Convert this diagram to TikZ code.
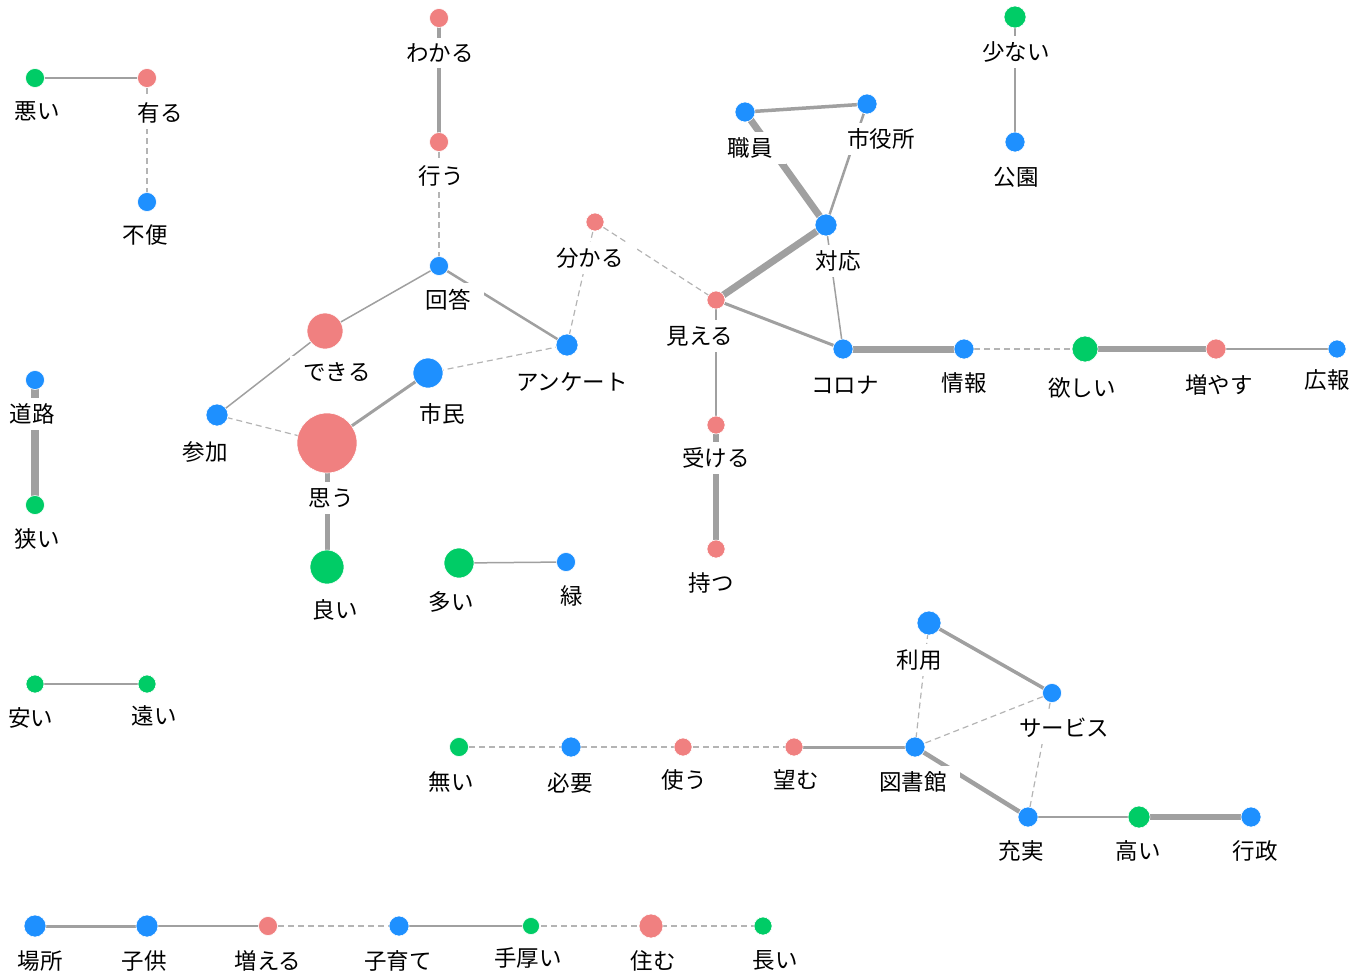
\documentclass[tikz,border=0pt]{standalone}
\usepackage{fontspec}
\setmainfont{Noto Sans CJK JP}
\pgfdeclarelayer{bg}
\pgfsetlayers{bg,main}
\definecolor{cred}{HTML}{F08080}
\definecolor{cblue}{HTML}{1E90FF}
\definecolor{cgreen}{HTML}{00CC66}
\definecolor{egray}{HTML}{A0A0A0}
\definecolor{dgray}{HTML}{B4B4B4}
\tikzset{
  vtx/.style={circle,inner sep=0pt,draw=white,line width=0.6pt},
  lbl/.style={fill=white,inner xsep=13pt,inner ysep=6pt,font=\fontsize{22.5}{26}\selectfont},
  edge/.style={draw=egray,line width=1.5pt},
  dedge/.style={draw=dgray,line width=1.2pt,dash pattern=on 6pt off 4pt},
}
\newcommand{\vtxnode}[7]{%
  \node[vtx,fill=#5,minimum size=#4pt] (#1) at (#2,#3) {};
  \coordinate (#1-l) at (#6,#7);}
\newcommand{\lab}[2]{\node[lbl] (#1-t) at (#1-l) {#2};}
\begin{document}
\begin{tikzpicture}[x=1pt,y=-1pt]
\useasboundingbox (0,0) rectangle (1364,975);
% vertices: name x y diameter color lx ly
\vtxnode{wakaru}{439}{18}{19}{cred}{440}{53}
\vtxnode{okonau}{439}{142}{19}{cred}{441}{176}
\vtxnode{kaitou}{439}{266}{19}{cblue}{448}{300}
\vtxnode{warui}{35}{78}{19}{cgreen}{37}{111}
\vtxnode{aru}{147}{78}{19}{cred}{160}{113}
\vtxnode{fuben}{147}{202}{19}{cblue}{145}{235}
\vtxnode{sukunai}{1015}{17}{22}{cgreen}{1016}{52}
\vtxnode{kouen}{1015}{142}{20}{cblue}{1016}{177}
\vtxnode{shokuin}{745}{112}{20}{cblue}{750}{148}
\vtxnode{shiyakusho}{867}{104}{20}{cblue}{881}{139}
\vtxnode{taiou}{826}{225}{22}{cblue}{838}{261}
\vtxnode{wakaru2}{595}{222}{18}{cred}{590}{258}
\vtxnode{mieru}{716}{300}{18}{cred}{700}{336}
\vtxnode{corona}{843}{349}{20}{cblue}{845}{385}
\vtxnode{jouhou}{964}{349}{20}{cblue}{964}{383}
\vtxnode{hoshii}{1085}{349}{26}{cgreen}{1082}{388}
\vtxnode{fuyasu}{1216}{349}{20}{cred}{1219}{385}
\vtxnode{kouhou}{1337}{349}{18}{cblue}{1327}{380}
\vtxnode{anketo}{567}{345}{22}{cblue}{572}{382}
\vtxnode{dekiru}{325}{331}{36}{cred}{337}{372}
\vtxnode{shimin}{428}{373}{30}{cblue}{442}{414}
\vtxnode{sanka}{217}{415}{22}{cblue}{205}{452}
\vtxnode{omou}{327}{443}{60}{cred}{331}{498}
\vtxnode{yoi}{327}{567}{34}{cgreen}{335}{610}
\vtxnode{ukeru}{716}{425}{18}{cred}{716}{458}
\vtxnode{motsu}{716}{549}{18}{cred}{711}{583}
\vtxnode{douro}{35}{380}{19}{cblue}{32}{414}
\vtxnode{semai}{35}{505}{19}{cgreen}{37}{539}
\vtxnode{ooi}{459}{563}{30}{cgreen}{451}{602}
\vtxnode{midori}{566}{562}{19}{cblue}{572}{596}
\vtxnode{yasui}{35}{684}{18}{cgreen}{31}{718}
\vtxnode{tooi}{147}{684}{18}{cgreen}{154}{716}
\vtxnode{riyou}{929}{623}{24}{cblue}{919}{660}
\vtxnode{service}{1052}{693}{19}{cblue}{1064}{728}
\vtxnode{nai}{459}{747}{19}{cgreen}{451}{782}
\vtxnode{hitsuyou}{571}{747}{20}{cblue}{570}{783}
\vtxnode{tsukau}{683}{747}{18}{cred}{684}{780}
\vtxnode{nozomu}{794}{747}{18}{cred}{796}{780}
\vtxnode{toshokan}{915}{747}{20}{cblue}{913}{782}
\vtxnode{juujitsu}{1028}{817}{20}{cblue}{1021}{851}
\vtxnode{takai}{1139}{817}{22}{cgreen}{1138}{851}
\vtxnode{gyousei}{1251}{817}{20}{cblue}{1255}{851}
\vtxnode{basho}{35}{926}{22}{cblue}{40}{961}
\vtxnode{kodomo}{147}{926}{22}{cblue}{144}{961}
\vtxnode{fueru}{268}{926}{19}{cred}{268}{961}
\vtxnode{kosodate}{399}{926}{20}{cblue}{398}{961}
\vtxnode{teatsui}{531}{926}{17}{cgreen}{528}{958}
\vtxnode{sumu}{651}{926}{24}{cred}{653}{961}
\vtxnode{nagai}{763}{926}{18}{cgreen}{775}{960}
\begin{pgfonlayer}{bg}
\draw[edge] (warui.center) -- (aru.center);
\draw[dedge] (aru.center) -- (fuben.center);
\draw[edge,line width=4.5pt] (wakaru.center) -- (okonau.center);
\draw[dedge] (okonau.center) -- (kaitou.center);
\draw[edge] (kaitou.center) -- (dekiru.center);
\draw[edge,line width=2.5pt] (kaitou.center) -- (anketo.center);
\draw[edge] (dekiru.center) -- (sanka.center);
\draw[dedge] (sanka.center) -- (omou.center);
\draw[edge,line width=3pt] (omou.center) -- (shimin.center);
\draw[dedge] (shimin.center) -- (anketo.center);
\draw[edge,line width=5pt] (omou.center) -- (yoi.center);
\draw[dedge] (anketo.center) -- (wakaru2.center);
\draw[dedge] (wakaru2.center) -- (mieru.center);
\draw[edge,line width=7pt] (mieru.center) -- (taiou.center);
\draw[edge,line width=3pt] (mieru.center) -- (corona.center);
\draw[edge,line width=2.5pt] (mieru.center) -- (ukeru.center);
\draw[edge,line width=5.5pt] (ukeru.center) -- (motsu.center);
\draw[edge,line width=3.5pt] (shokuin.center) -- (shiyakusho.center);
\draw[edge,line width=7pt] (shokuin.center) -- (taiou.center);
\draw[edge,line width=2.5pt] (shiyakusho.center) -- (taiou.center);
\draw[edge] (taiou.center) -- (corona.center);
\draw[edge,line width=7pt] (corona.center) -- (jouhou.center);
\draw[dedge] (jouhou.center) -- (hoshii.center);
\draw[edge,line width=6pt] (hoshii.center) -- (fuyasu.center);
\draw[edge] (fuyasu.center) -- (kouhou.center);
\draw[edge,line width=2.5pt] (sukunai.center) -- (kouen.center);
\draw[edge,line width=8pt] (douro.center) -- (semai.center);
\draw[edge] (ooi.center) -- (midori.center);
\draw[edge,line width=2.5pt] (yasui.center) -- (tooi.center);
\draw[edge,line width=3.5pt] (riyou.center) -- (service.center);
\draw[dedge] (riyou.center) -- (toshokan.center);
\draw[dedge] (service.center) -- (toshokan.center);
\draw[dedge] (service.center) -- (juujitsu.center);
\draw[edge,line width=4.5pt] (toshokan.center) -- (juujitsu.center);
\draw[dedge] (nai.center) -- (hitsuyou.center);
\draw[dedge] (hitsuyou.center) -- (tsukau.center);
\draw[dedge] (tsukau.center) -- (nozomu.center);
\draw[edge,line width=3pt] (nozomu.center) -- (toshokan.center);
\draw[edge] (juujitsu.center) -- (takai.center);
\draw[edge,line width=5.5pt] (takai.center) -- (gyousei.center);
\draw[edge,line width=3pt] (basho.center) -- (kodomo.center);
\draw[edge,line width=2.5pt] (kodomo.center) -- (fueru.center);
\draw[dedge] (fueru.center) -- (kosodate.center);
\draw[edge,line width=2.5pt] (kosodate.center) -- (teatsui.center);
\draw[dedge] (teatsui.center) -- (sumu.center);
\draw[dedge] (sumu.center) -- (nagai.center);
\end{pgfonlayer}
% labels
\lab{wakaru}{わかる}
\lab{okonau}{行う}
\lab{kaitou}{回答}
\lab{warui}{悪い}
\lab{aru}{有る}
\lab{fuben}{不便}
\lab{sukunai}{少ない}
\lab{kouen}{公園}
\lab{shokuin}{職員}
\lab{shiyakusho}{市役所}
\lab{taiou}{対応}
\lab{wakaru2}{分かる}
\lab{mieru}{見える}
\lab{corona}{コロナ}
\lab{jouhou}{情報}
\lab{hoshii}{欲しい}
\lab{fuyasu}{増やす}
\lab{kouhou}{広報}
\lab{anketo}{アンケート}
\lab{dekiru}{できる}
\lab{shimin}{市民}
\lab{sanka}{参加}
\lab{omou}{思う}
\lab{yoi}{良い}
\lab{ukeru}{受ける}
\lab{motsu}{持つ}
\lab{douro}{道路}
\lab{semai}{狭い}
\lab{ooi}{多い}
\lab{midori}{緑}
\lab{yasui}{安い}
\lab{tooi}{遠い}
\lab{riyou}{利用}
\lab{service}{サービス}
\lab{nai}{無い}
\lab{hitsuyou}{必要}
\lab{tsukau}{使う}
\lab{nozomu}{望む}
\lab{toshokan}{図書館}
\lab{juujitsu}{充実}
\lab{takai}{高い}
\lab{gyousei}{行政}
\lab{basho}{場所}
\lab{kodomo}{子供}
\lab{fueru}{増える}
\lab{kosodate}{子育て}
\lab{teatsui}{手厚い}
\lab{sumu}{住む}
\lab{nagai}{長い}
\end{tikzpicture}
\end{document}
